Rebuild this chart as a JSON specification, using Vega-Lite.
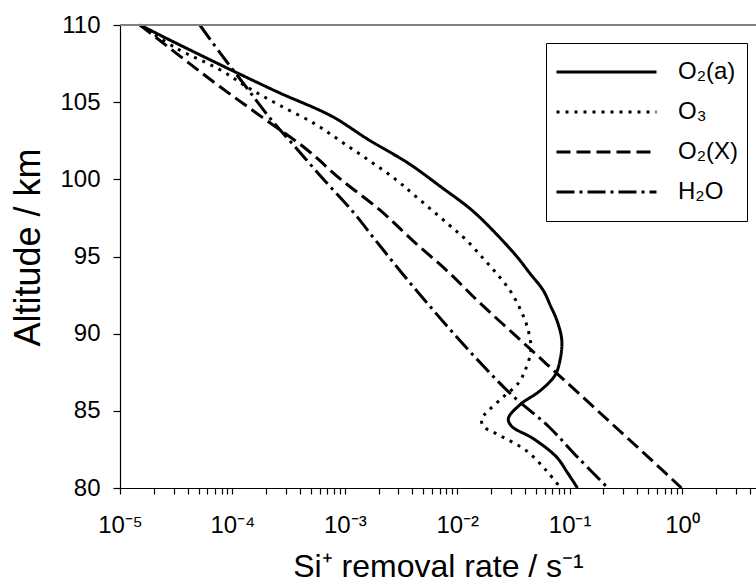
{
  "$schema": "https://vega.github.io/schema/vega-lite/v6.json",
  "width": 636,
  "height": 463,
  "autosize": {"type": "none"},
  "padding": {"left": 120, "top": 25, "right": 0, "bottom": 98},
  "background": "white",
  "config": {
    "view": {"stroke": null},
    "font": "Liberation Sans",
    "axis": {
      "domainColor": "black",
      "domainWidth": 1.2,
      "tickColor": "black",
      "tickWidth": 1.2,
      "labelColor": "black",
      "titleColor": "black",
      "labelFont": "Liberation Sans",
      "titleFont": "Liberation Sans",
      "titleFontWeight": "normal",
      "grid": false
    }
  },
  "layer": [
    {
      "data": {"values": [
        {"s": "O₂(a)", "alt": 110, "rate": 1.507e-5},
        {"s": "O₂(a)", "alt": 109, "rate": 2.82e-5},
        {"s": "O₂(a)", "alt": 108, "rate": 5.37e-5},
        {"s": "O₂(a)", "alt": 106.9, "rate": 1.10e-4},
        {"s": "O₂(a)", "alt": 105.6, "rate": 2.63e-4},
        {"s": "O₂(a)", "alt": 104.1, "rate": 7.6e-4},
        {"s": "O₂(a)", "alt": 102.6, "rate": 1.60e-3},
        {"s": "O₂(a)", "alt": 101.0, "rate": 3.75e-3},
        {"s": "O₂(a)", "alt": 99.5, "rate": 7.2e-3},
        {"s": "O₂(a)", "alt": 98.0, "rate": 1.35e-2},
        {"s": "O₂(a)", "alt": 96.5, "rate": 2.2e-2},
        {"s": "O₂(a)", "alt": 95.0, "rate": 3.39e-2},
        {"s": "O₂(a)", "alt": 93.9, "rate": 4.44e-2},
        {"s": "O₂(a)", "alt": 92.8, "rate": 5.83e-2},
        {"s": "O₂(a)", "alt": 91.8, "rate": 6.76e-2},
        {"s": "O₂(a)", "alt": 90.9, "rate": 7.67e-2},
        {"s": "O₂(a)", "alt": 89.6, "rate": 8.51e-2},
        {"s": "O₂(a)", "alt": 88.3, "rate": 8.22e-2},
        {"s": "O₂(a)", "alt": 87.3, "rate": 7.41e-2},
        {"s": "O₂(a)", "alt": 86.3, "rate": 5.46e-2},
        {"s": "O₂(a)", "alt": 85.4, "rate": 3.62e-2},
        {"s": "O₂(a)", "alt": 84.5, "rate": 2.85e-2},
        {"s": "O₂(a)", "alt": 84.0, "rate": 3.05e-2},
        {"s": "O₂(a)", "alt": 83.2, "rate": 4.75e-2},
        {"s": "O₂(a)", "alt": 82.0, "rate": 7.67e-2},
        {"s": "O₂(a)", "alt": 81.0, "rate": 9.55e-2},
        {"s": "O₂(a)", "alt": 80.0, "rate": 0.1175},

        {"s": "O₃", "alt": 110, "rate": 1.507e-5},
        {"s": "O₃", "alt": 108.5, "rate": 3.16e-5},
        {"s": "O₃", "alt": 107.1, "rate": 7.76e-5},
        {"s": "O₃", "alt": 105.9, "rate": 1.41e-4},
        {"s": "O₃", "alt": 104.8, "rate": 2.63e-4},
        {"s": "O₃", "alt": 103.6, "rate": 5.4e-4},
        {"s": "O₃", "alt": 102.4, "rate": 9.5e-4},
        {"s": "O₃", "alt": 101.2, "rate": 1.66e-3},
        {"s": "O₃", "alt": 100.0, "rate": 2.83e-3},
        {"s": "O₃", "alt": 98.9, "rate": 4.27e-3},
        {"s": "O₃", "alt": 97.1, "rate": 8.3e-3},
        {"s": "O₃", "alt": 96.0, "rate": 1.23e-2},
        {"s": "O₃", "alt": 94.8, "rate": 1.74e-2},
        {"s": "O₃", "alt": 93.8, "rate": 2.3e-2},
        {"s": "O₃", "alt": 92.8, "rate": 2.95e-2},
        {"s": "O₃", "alt": 91.6, "rate": 3.63e-2},
        {"s": "O₃", "alt": 90.5, "rate": 4.17e-2},
        {"s": "O₃", "alt": 89.0, "rate": 4.53e-2},
        {"s": "O₃", "alt": 87.6, "rate": 4.01e-2},
        {"s": "O₃", "alt": 86.8, "rate": 3.50e-2},
        {"s": "O₃", "alt": 85.9, "rate": 2.57e-2},
        {"s": "O₃", "alt": 85.0, "rate": 1.89e-2},
        {"s": "O₃", "alt": 84.5, "rate": 1.65e-2},
        {"s": "O₃", "alt": 84.0, "rate": 1.71e-2},
        {"s": "O₃", "alt": 83.4, "rate": 2.40e-2},
        {"s": "O₃", "alt": 82.4, "rate": 4.15e-2},
        {"s": "O₃", "alt": 81.1, "rate": 6.25e-2},
        {"s": "O₃", "alt": 80.0, "rate": 8.32e-2},

        {"s": "O₂(X)", "alt": 110, "rate": 1.507e-5},
        {"s": "O₂(X)", "alt": 108, "rate": 3.39e-5},
        {"s": "O₂(X)", "alt": 106, "rate": 7.76e-5},
        {"s": "O₂(X)", "alt": 104, "rate": 1.86e-4},
        {"s": "O₂(X)", "alt": 102, "rate": 4.47e-4},
        {"s": "O₂(X)", "alt": 100, "rate": 9.2e-4},
        {"s": "O₂(X)", "alt": 98, "rate": 2.06e-3},
        {"s": "O₂(X)", "alt": 96, "rate": 4.07e-3},
        {"s": "O₂(X)", "alt": 94, "rate": 8.32e-3},
        {"s": "O₂(X)", "alt": 92, "rate": 1.585e-2},
        {"s": "O₂(X)", "alt": 90, "rate": 3.16e-2},
        {"s": "O₂(X)", "alt": 88, "rate": 6.31e-2},
        {"s": "O₂(X)", "alt": 86, "rate": 0.126},
        {"s": "O₂(X)", "alt": 84, "rate": 0.251},
        {"s": "O₂(X)", "alt": 82, "rate": 0.501},
        {"s": "O₂(X)", "alt": 80, "rate": 0.989},

        {"s": "H₂O", "alt": 110, "rate": 5.13e-5},
        {"s": "H₂O", "alt": 108, "rate": 8.13e-5},
        {"s": "H₂O", "alt": 106, "rate": 1.32e-4},
        {"s": "H₂O", "alt": 104, "rate": 2.14e-4},
        {"s": "H₂O", "alt": 102, "rate": 3.72e-4},
        {"s": "H₂O", "alt": 100, "rate": 6.46e-4},
        {"s": "H₂O", "alt": 98, "rate": 1.15e-3},
        {"s": "H₂O", "alt": 96, "rate": 1.9e-3},
        {"s": "H₂O", "alt": 94, "rate": 3.16e-3},
        {"s": "H₂O", "alt": 92, "rate": 5.37e-3},
        {"s": "H₂O", "alt": 90, "rate": 9.33e-3},
        {"s": "H₂O", "alt": 88, "rate": 1.66e-2},
        {"s": "H₂O", "alt": 86, "rate": 3.09e-2},
        {"s": "H₂O", "alt": 84, "rate": 6.46e-2},
        {"s": "H₂O", "alt": 82, "rate": 0.1175},
        {"s": "H₂O", "alt": 80, "rate": 0.219}
      ]},
      "mark": {"type": "line", "color": "black", "strokeWidth": 3, "interpolate": "catmull-rom"},
      "encoding": {
        "x": {
          "field": "rate", "type": "quantitative",
          "scale": {"type": "log", "domain": [1e-5, 4.55], "nice": false},
          "axis": {
            "values": [1e-5, 2e-5, 3e-5, 4e-5, 5e-5, 6e-5, 7e-5, 8e-5, 9e-5,
                       1e-4, 2e-4, 3e-4, 4e-4, 5e-4, 6e-4, 7e-4, 8e-4, 9e-4,
                       1e-3, 2e-3, 3e-3, 4e-3, 5e-3, 6e-3, 7e-3, 8e-3, 9e-3,
                       1e-2, 2e-2, 3e-2, 4e-2, 5e-2, 6e-2, 7e-2, 8e-2, 9e-2,
                       0.1, 0.2, 0.3, 0.4, 0.5, 0.6, 0.7, 0.8, 0.9,
                       1, 2, 3, 4],
            "labelExpr": "abs(log(datum.value)/LN10 - round(log(datum.value)/LN10)) < 0.001 ? '10' + ['⁻⁵','⁻⁴','⁻³','⁻²','⁻¹','⁰','¹'][round(log(datum.value)/LN10)+5] : ''",
            "tickSize": 6,
            "encode": {"ticks": {"update": {"y2": {"signal": "abs(log(datum.value)/LN10 - round(log(datum.value)/LN10)) < 0.001 ? 6 : 3"}}}},
            "labelFontSize": 24,
            "labelPadding": 19,
            "labelOverlap": false,
            "labelFlush": false,
            "title": "Si⁺ removal rate / s⁻¹",
            "titleFontSize": 32,
            "titlePadding": 14
          }
        },
        "y": {
          "field": "alt", "type": "quantitative",
          "scale": {"domain": [80, 110], "nice": false, "zero": false},
          "axis": {
            "values": [80, 82.5, 85, 87.5, 90, 92.5, 95, 97.5, 100, 102.5, 105, 107.5, 110],
            "labelExpr": "datum.value % 5 == 0 ? datum.label : ''",
            "tickSize": 7,
            "encode": {"ticks": {"update": {"x2": {"signal": "datum.value % 5 == 0 ? -7 : -3"}}}},
            "labelFontSize": 24,
            "labelPadding": 13,
            "labelOverlap": false,
            "labelFlush": false,
            "title": "Altitude / km",
            "titleFontSize": 36,
            "titlePadding": 12,
            "titleY": 222
          }
        },
        "order": {"field": "alt", "sort": "descending"},
        "strokeDash": {
          "field": "s", "type": "nominal",
          "scale": {"domain": ["O₂(a)", "O₃", "O₂(X)", "H₂O"], "range": [[1, 0], [3, 6], [14, 6], [18, 5, 3, 5]]},
          "legend": {
            "title": null,
            "orient": "none",
            "legendX": 426,
            "legendY": 18,
            "symbolType": "stroke",
            "symbolSize": 10000,
            "symbolStrokeWidth": 3,
            "symbolStrokeColor": "black",
            "labelFontSize": 24,
            "labelFont": "Liberation Sans",
            "labelColor": "black",
            "labelOffset": 20,
            "labelLimit": 300,
            "clipHeight": 40,
            "rowPadding": 0,
            "padding": 9,
            "strokeColor": "black",
            "fillColor": "white"
          }
        }
      }
    },
    {
      "data": {"values": [{"top": 110}]},
      "mark": {"type": "rule", "color": "#808080", "strokeWidth": 2},
      "encoding": {"y": {"field": "top", "type": "quantitative"}}
    }
  ]
}
